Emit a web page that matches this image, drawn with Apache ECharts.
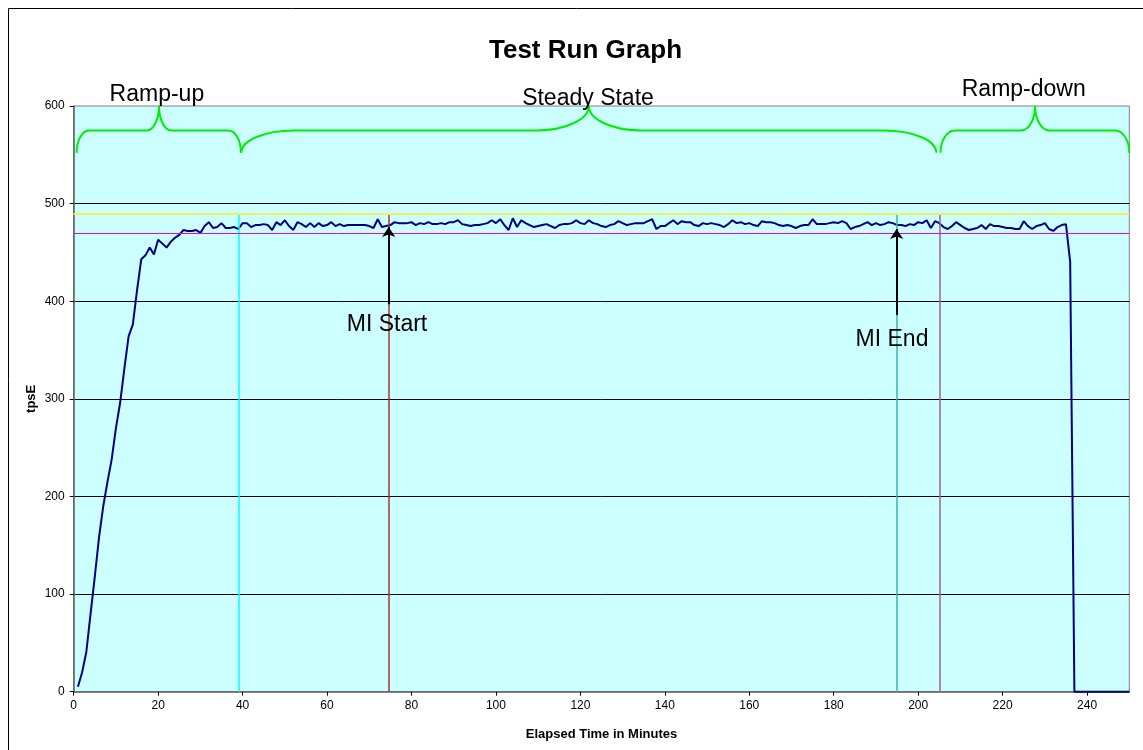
<!DOCTYPE html>
<html>
<head>
<meta charset="utf-8">
<script src="https://cdn.jsdelivr.net/npm/echarts@6/dist/echarts.min.js"></script>
<style>
html,body{margin:0;padding:0;background:#fff;}
#chart{width:1143px;height:750px;}
</style>
</head>
<body>
<div id="chart"></div>
<script>
// ---- DATA ----
const chartTitle = 'Test Run Graph';
const xAxisName = 'Elapsed Time in Minutes';
const yAxisName = 'tpsE';
const xTicks = [0, 250, 20];   // min, max, interval
const yTicks = [0, 600, 100];

// tpsE sampled once per minute, minutes 1..250
const tpsE = [
  5, 20, 41, 80, 118, 158, 190, 215, 238, 270, 296, 331, 364, 376, 411, 443, 447, 455, 448, 463,
  459, 455, 461, 465, 468, 473, 472, 472, 473, 470, 477, 481, 475, 476, 480, 475,
  475, 476, 474, 480, 480, 476, 478, 478, 479, 478, 473, 481, 478, 483, 477, 473, 481, 479, 476,
  480, 476, 480, 477, 478, 481, 477, 479, 477, 478, 478, 478, 478, 478, 477, 475, 484, 476, 477,
  478, 481, 480, 480, 480, 481, 478, 480, 479, 481, 479, 479,
  480, 479, 481, 481, 483, 479, 478, 477, 478, 478, 479, 480, 483, 480, 484, 478, 473, 485, 476,
  483, 480, 478, 476, 477, 478, 479, 477, 475, 478, 479, 479, 480, 483, 480, 479, 483, 480, 479,
  477, 476, 478, 479, 482, 480, 478, 479, 480, 480, 480, 482,
  484, 474, 477, 477, 480, 483, 479, 482, 481, 481, 478, 477, 480, 479, 480, 479, 478, 476, 479,
  483, 480, 481, 479, 480, 478, 477, 482, 481, 481, 480, 478, 477, 478, 477, 475, 477, 478, 478,
  484, 479, 479, 479, 480, 481, 480, 482, 480, 474, 476, 477,
  479, 481, 478, 480, 478, 479, 481, 480, 478, 478, 477, 479, 478, 481, 480, 483, 475, 482, 480,
  476, 474, 477, 481, 478, 475, 473, 474, 475, 478, 474, 479, 477, 477, 476, 475, 475, 474, 474,
  482, 477, 474, 477, 478, 480, 474, 472, 476, 478, 479, 440,
  0, 0, 0, 0, 0, 0, 0, 0, 0, 0, 0, 0, 0, 0
];
const firstMinute = 1;

// reference levels
const hLevels = [490, 470];
const hColors = ['#f0f060', '#e000e0'];
const vMarks = [39, 74.6, 195, 205];
const vColors = ['#00ffff', '#b03030', '#40b0b0', '#a060a0'];
const vTop = 490;

// phase braces
const phaseNames = ['Ramp-up', 'Steady State', 'Ramp-down'];
const braceStart = [0.7, 39.7, 205.3];
const braceEnd = [39.6, 204.3, 250];
const braceTip = [20.2, 122, 227.7];
const braceLevels = [552, 575, 600]; // end, body, tip
const phaseLabelX = [19.7, 121.8, 225];
const phaseLabelY = [612, 608, 617];

// measurement interval arrows
const arrowNames = ['MI Start', 'MI End'];
const arrowX = [74.6, 194.9];
const arrowFrom = [397, 386];
const arrowTo = [476, 474];
const arrowLabelX = [74.2, 193.8];
const arrowLabelY = [376, 361];

// ---- CHART ----
const FONT = '"Liberation Sans", Arial, sans-serif';
const chart = echarts.init(document.getElementById('chart'), null, {renderer: 'canvas'});

const seriesData = tpsE.map((v, i) => [firstMinute + i, v]);

const vLineData = vMarks.map((x, i) => [
  {coord: [x, 0], lineStyle: {color: vColors[i], width: 1.5, type: 'solid'}},
  {coord: [x, vTop]}
]);
const hLineData = hLevels.map((y, i) => ({
  yAxis: y, lineStyle: {color: hColors[i], width: i === 0 ? 2 : 1, type: 'solid'}
}));

function bracePath(api, i) {
  const p0 = api.coord([braceStart[i], braceLevels[0]]);
  const p1 = api.coord([braceEnd[i], braceLevels[0]]);
  const pm = api.coord([braceTip[i], braceLevels[1]]);
  const pt = api.coord([braceTip[i], braceLevels[2]]);
  const x0 = p0[0], x1 = p1[0], xt = pm[0];
  const yE = p0[1], yM = pm[1], yT = pt[1];
  const r = (x1 - x0) * 0.075;
  const k = 0.5523;
  const h1 = yE - yM, h2 = yM - yT;
  let d = `M${x0},${yE}`;
  d += ` C${x0},${yE - k * h1} ${x0 + r - k * r},${yM} ${x0 + r},${yM}`;
  d += ` L${xt - r},${yM}`;
  d += ` C${xt - r + k * r},${yM} ${xt},${yT + k * h2} ${xt},${yT}`;
  d += ` C${xt},${yT + k * h2} ${xt + r - k * r},${yM} ${xt + r},${yM}`;
  d += ` L${x1 - r},${yM}`;
  d += ` C${x1 - r + k * r},${yM} ${x1},${yE - k * h1} ${x1},${yE}`;
  return d;
}

const option = {
  backgroundColor: '#ffffff',
  animation: false,
  title: {
    text: chartTitle,
    left: 484, top: 33,
    textStyle: {fontFamily: FONT, fontSize: 26, fontWeight: 'bold', color: '#000'}
  },
  grid: {
    left: 73.7, right: 13.7, top: 106, bottom: 58.3,
    show: true, backgroundColor: '#ccffff', borderColor: '#808080', borderWidth: 1
  },
  xAxis: {
    type: 'value', min: xTicks[0], max: xTicks[1], interval: xTicks[2],
    name: xAxisName, nameLocation: 'middle', nameGap: 36,
    nameTextStyle: {fontFamily: FONT, fontSize: 13, fontWeight: 'bold', color: '#000'},
    axisLine: {show: true, lineStyle: {color: '#606060', width: 1.5}},
    axisTick: {show: true, length: 4, lineStyle: {color: '#000'}},
    axisLabel: {fontFamily: FONT, fontSize: 12, color: '#000', margin: 8, showMaxLabel: false},
    splitLine: {show: false}
  },
  yAxis: {
    type: 'value', min: yTicks[0], max: yTicks[1], interval: yTicks[2],
    name: yAxisName, nameLocation: 'middle', nameGap: 36, nameRotate: 90,
    nameMoveOverlap: false,
    nameTextStyle: {fontFamily: FONT, fontSize: 13, fontWeight: 'bold', color: '#000'},
    axisLine: {show: true, lineStyle: {color: '#606060', width: 1.5}},
    axisTick: {show: true, length: 4, lineStyle: {color: '#000'}},
    axisLabel: {fontFamily: FONT, fontSize: 12, color: '#000', margin: 9},
    splitLine: {show: true, showMinLine: false, showMaxLine: false, lineStyle: {color: '#000', width: 1}}
  },
  series: [
    {
      name: 'refs', type: 'line', data: [], z: 1, silent: true,
      markLine: {
        silent: true, symbol: 'none', animation: false,
        label: {show: false},
        lineStyle: {type: 'solid'},
        data: vLineData.concat(hLineData)
      }
    },
    {
      name: 'tpsE', type: 'line', data: seriesData, z: 3,
      showSymbol: false, symbol: 'none', clip: false,
      lineStyle: {color: '#000080', width: 2}
    },
    {
      name: 'braces', type: 'custom', z: 4, silent: true, clip: false,
      data: phaseNames.map((n, i) => [braceTip[i], braceLevels[1]]),
      renderItem: function (params, api) {
        const i = params.dataIndex;
        return {
          type: 'path',
          shape: {pathData: bracePath(api, i)},
          style: {fill: 'none', stroke: '#00ee00', lineWidth: 2}
        };
      }
    },
    {
      name: 'arrows', type: 'lines', coordinateSystem: 'cartesian2d', z: 5, silent: true,
      symbol: ['none', 'arrow'], symbolSize: 10,
      lineStyle: {color: '#000', width: 2, opacity: 1},
      data: arrowNames.map((n, i) => ({coords: [[arrowX[i], arrowFrom[i]], [arrowX[i], arrowTo[i]]]}))
    },
    {
      name: 'labels', type: 'custom', z: 6, silent: true, clip: false,
      data: phaseNames.concat(arrowNames).map((n, i) => i < 3 ? [phaseLabelX[i], phaseLabelY[i]] : [arrowLabelX[i - 3], arrowLabelY[i - 3]]),
      renderItem: function (params, api) {
        const i = params.dataIndex;
        const txt = i < 3 ? phaseNames[i] : arrowNames[i - 3];
        const p = api.coord([api.value(0), api.value(1)]);
        return {
          type: 'text',
          x: p[0], y: p[1],
          style: {
            text: txt, fontFamily: FONT, fontSize: 23, fill: '#000',
            align: 'center', verticalAlign: 'middle'
          }
        };
      }
    }
  ],
  graphic: [
    {
      type: 'rect', silent: true, z: 100,
      shape: {x: 8.5, y: 8.5, width: 1200, height: 800},
      style: {fill: 'none', stroke: '#000', lineWidth: 1}
    }
  ]
};
chart.setOption(option);
</script>
</body>
</html>
